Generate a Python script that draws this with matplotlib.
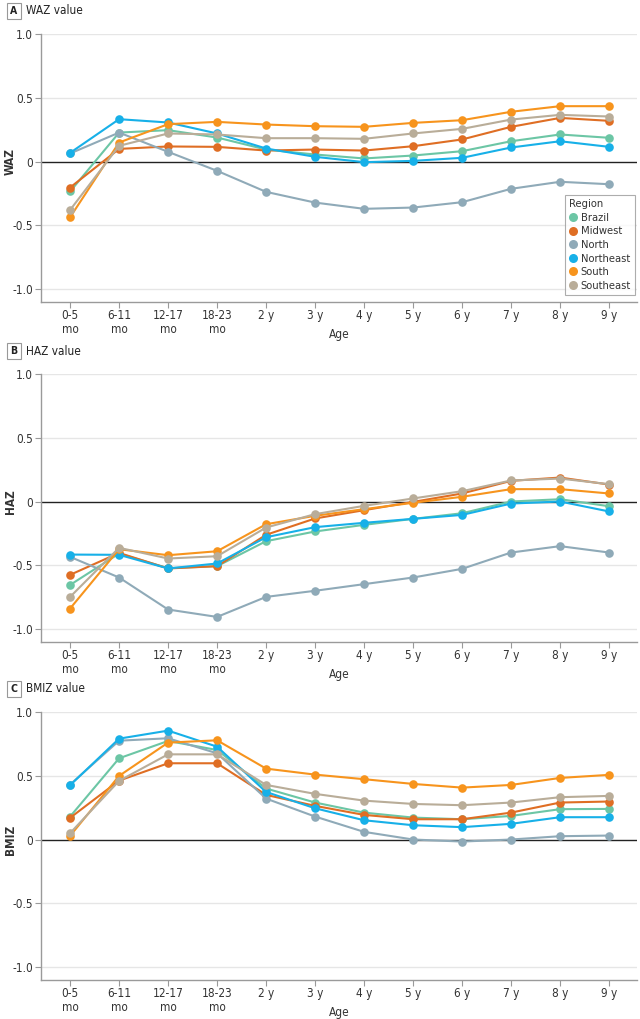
import matplotlib
matplotlib.use("Agg")
import matplotlib.pyplot as plt
from matplotlib.lines import Line2D

plt.rcParams['font.family'] = ['DejaVu Sans']
plt.rcParams['font.stretch'] = 'condensed'

ages = ["0-5\nmo", "6-11\nmo", "12-17\nmo", "18-23\nmo", "2 y", "3 y", "4 y", "5 y", "6 y", "7 y", "8 y", "9 y"]
regions = ["Brazil", "Midwest", "North", "Northeast", "South", "Southeast"]
colors = ["#6CC6A5", "#DF6E24", "#8FAAB8", "#17B0E8", "#F7941D", "#B9AD99"]

waz_brazil = [-0.235, 0.227, 0.246, 0.188, 0.094, 0.055, 0.024, 0.047, 0.081, 0.159, 0.212, 0.186]
waz_midwest = [-0.204, 0.099, 0.118, 0.115, 0.086, 0.094, 0.086, 0.120, 0.173, 0.272, 0.342, 0.319]
waz_north = [0.063, 0.227, 0.076, -0.073, -0.238, -0.322, -0.371, -0.361, -0.319, -0.214, -0.159, -0.178]
waz_northeast = [0.068, 0.332, 0.306, 0.220, 0.102, 0.037, -0.005, 0.005, 0.029, 0.110, 0.159, 0.115]
waz_south = [-0.437, 0.149, 0.293, 0.311, 0.290, 0.277, 0.272, 0.303, 0.324, 0.390, 0.434, 0.434]
waz_southeast = [-0.380, 0.123, 0.220, 0.212, 0.183, 0.183, 0.178, 0.220, 0.256, 0.329, 0.366, 0.353]

haz_brazil = [-0.654, -0.408, -0.523, -0.507, -0.311, -0.235, -0.183, -0.136, -0.092, 0.000, 0.018, -0.037]
haz_midwest = [-0.575, -0.403, -0.525, -0.507, -0.261, -0.133, -0.068, -0.003, 0.063, 0.162, 0.188, 0.133]
haz_north = [-0.434, -0.596, -0.847, -0.905, -0.748, -0.700, -0.648, -0.596, -0.528, -0.400, -0.350, -0.400]
haz_northeast = [-0.416, -0.418, -0.525, -0.486, -0.280, -0.201, -0.167, -0.136, -0.105, -0.016, 0.000, -0.078]
haz_south = [-0.839, -0.374, -0.421, -0.390, -0.178, -0.112, -0.060, -0.010, 0.037, 0.097, 0.097, 0.063]
haz_southeast = [-0.748, -0.363, -0.447, -0.429, -0.204, -0.099, -0.034, 0.024, 0.081, 0.165, 0.180, 0.136]

bmiz_brazil = [0.180, 0.637, 0.773, 0.702, 0.400, 0.290, 0.211, 0.172, 0.159, 0.185, 0.238, 0.240]
bmiz_midwest = [0.170, 0.462, 0.598, 0.598, 0.350, 0.264, 0.193, 0.159, 0.159, 0.211, 0.290, 0.298]
bmiz_north = [0.431, 0.775, 0.794, 0.676, 0.321, 0.180, 0.060, 0.000, -0.016, 0.000, 0.026, 0.031]
bmiz_northeast = [0.426, 0.791, 0.854, 0.728, 0.373, 0.245, 0.151, 0.112, 0.097, 0.123, 0.175, 0.175]
bmiz_south = [0.029, 0.499, 0.760, 0.778, 0.556, 0.509, 0.473, 0.436, 0.407, 0.428, 0.483, 0.507]
bmiz_southeast = [0.050, 0.460, 0.668, 0.668, 0.428, 0.358, 0.305, 0.279, 0.269, 0.290, 0.332, 0.342]

panels = [
    ("A", "WAZ value", "WAZ", [waz_brazil, waz_midwest, waz_north, waz_northeast, waz_south, waz_southeast]),
    ("B", "HAZ value", "HAZ", [haz_brazil, haz_midwest, haz_north, haz_northeast, haz_south, haz_southeast]),
    ("C", "BMIZ value", "BMIZ", [bmiz_brazil, bmiz_midwest, bmiz_north, bmiz_northeast, bmiz_south, bmiz_southeast]),
]

W, H = 640, 1019
fig = plt.figure(figsize=(W / 100, H / 100), dpi=100)

left_px, right_px = 40.7, 637
tops = [34, 374, 712]
ax_h_px = 268.3
x = list(range(len(ages)))
axis_grey = "#9a9a9a"
text_col = "#333333"

for (letter, title, ylab, series), top in zip(panels, tops):
    ax = fig.add_axes([left_px / W, 1 - (top + ax_h_px) / H, (right_px - left_px) / W, ax_h_px / H])
    ax.set_xlim(-0.6, 11.57)
    ax.set_ylim(-1.104, 1.0)
    for g in [-1.0, -0.5, 0.5, 1.0]:
        ax.axhline(g, color="#e6e6e6", lw=1.0, zorder=0)
    ax.axhline(0, color="#222222", lw=1.0, zorder=1)
    for vals, col, name in zip(series, colors, regions):
        ax.plot(x, vals, color=col, lw=1.5, marker="o", markersize=6.2,
                markeredgewidth=0, label=name, zorder=3, clip_on=False)
    ax.set_yticks([-1.0, -0.5, 0, 0.5, 1.0])
    ax.set_yticklabels(["-1.0", "-0.5", "0", "0.5", "1.0"])
    ax.set_xticks(x)
    ax.set_xticklabels(ages, linespacing=1.15)
    ax.tick_params(axis="both", colors=axis_grey, labelcolor=text_col, labelsize=8.5,
                   length=4, width=0.8, direction="out")
    ax.tick_params(axis="x", pad=0.5)
    ax.tick_params(axis="y", pad=1.5)
    for s in ["top", "right"]:
        ax.spines[s].set_visible(False)
    for s in ["left", "bottom"]:
        ax.spines[s].set_color(axis_grey)
        ax.spines[s].set_linewidth(1.0)
    ax.set_ylabel(ylab, fontsize=8.5, color=text_col, fontweight="bold")
    ax.yaxis.set_label_coords(-0.040, 1.104 / 2.104)
    ax.set_xlabel("Age", fontsize=8.5, color=text_col)
    ax.xaxis.set_label_coords(0.5, -0.096)
    # panel label
    ty = top - 23
    fig.text(14 / W, 1 - ty / H, letter, fontsize=7.5, fontweight="bold", color="#222222",
             ha="center", va="center",
             bbox=dict(boxstyle="square,pad=0.3", fc="white", ec="#999999", lw=0.8))
    fig.text(26 / W, 1 - ty / H, title, fontsize=8.5, color="#222222", ha="left", va="center")
    if letter == "A":
        handles = [Line2D([], [], ls="none", marker="o", markersize=6.5, markeredgewidth=0,
                          color=c) for c in colors]
        leg = ax.legend(handles, regions, title="Region", loc="lower right",
                        bbox_to_anchor=(0.997, 0.027), borderaxespad=0, fontsize=8,
                        title_fontsize=8, frameon=True, fancybox=False,
                        handlelength=0.7, handletextpad=0.3, labelspacing=0.32,
                        borderpad=0.4, alignment="left")
        leg.get_frame().set_edgecolor("#999999")
        leg.get_frame().set_linewidth(0.8)
        for t in leg.get_texts():
            t.set_color(text_col)
        leg.get_title().set_color(text_col)
        leg.set_zorder(5)

fig.savefig("out.png", dpi=100)
